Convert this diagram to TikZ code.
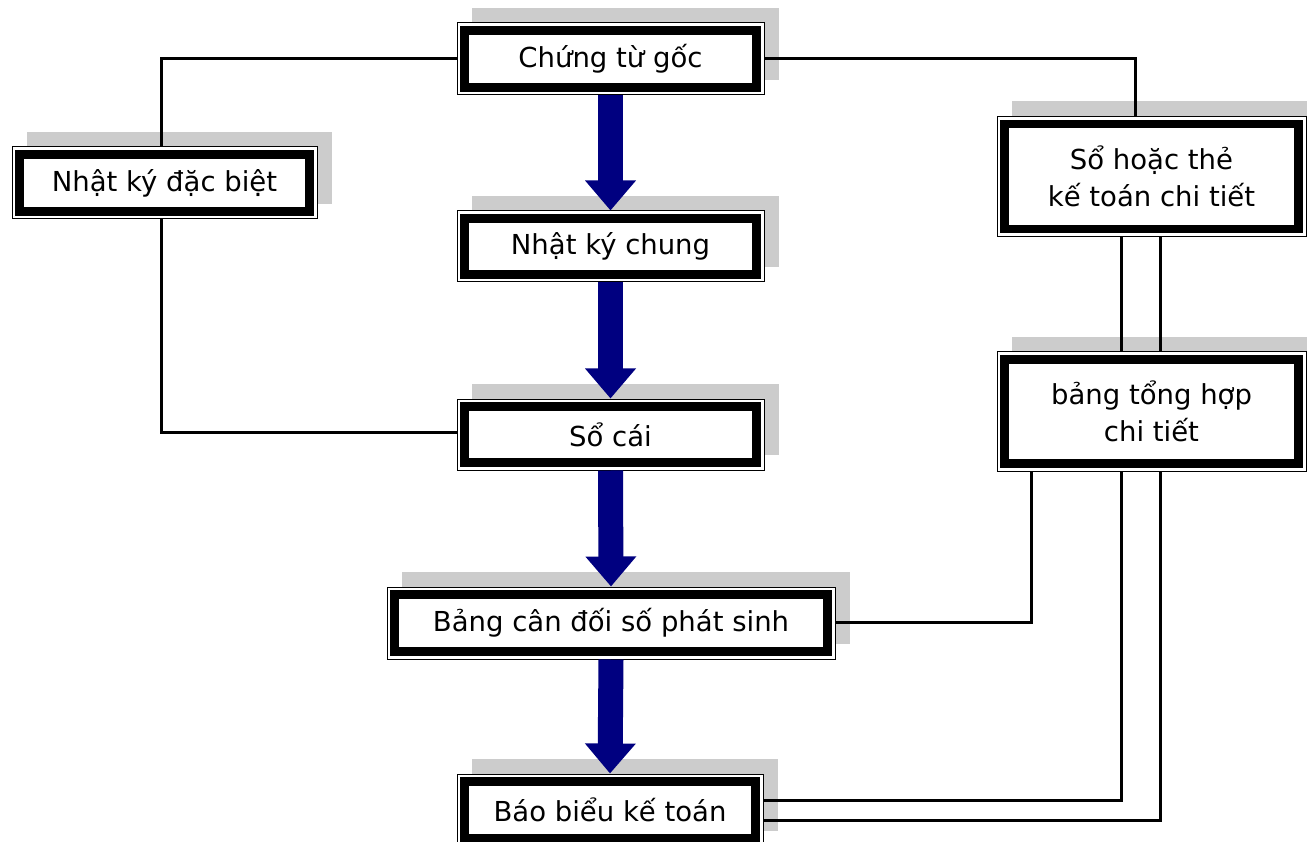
\documentclass[tikz,border=0pt]{standalone}
\usepackage{fontspec}
\setmainfont{DejaVu Sans}
\usetikzlibrary{shadows,arrows.meta,calc}
\definecolor{navyblue}{RGB}{0,0,128}
\definecolor{shadowgray}{RGB}{204,204,204}
\begin{document}
\begin{tikzpicture}[x=1pt,y=-1pt,
  box/.style={rectangle, draw=black, line width=1pt, fill=white, inner sep=0pt, align=center,
    font=\fontsize{27.5}{37}\selectfont,
    drop shadow={shadow xshift=15pt, shadow yshift=15pt, fill=shadowgray, opacity=1},
    path picture={\draw[line width=8.5pt]
      ([shift={(7.5pt,-7.5pt)}]path picture bounding box.north west) rectangle
      ([shift={(-7.5pt,7.5pt)}]path picture bounding box.south east);}},
  link/.style={draw=black, line width=3pt},
  flow/.style={draw=navyblue, line width=25pt, -{Triangle[width=49pt,length=30pt]}}]
\useasboundingbox (0,0) rectangle (1307,842);

\node[box, minimum width=307pt, minimum height=72pt] (A) at (610.5,59) {Chứng từ gốc};
\node[box, minimum width=305pt, minimum height=72pt] (B) at (164.5,183) {Nhật ký đặc biệt};
\node[box, minimum width=307pt, minimum height=71pt] (C) at (610.5,246.5) {Nhật ký chung};
\node[box, minimum width=307pt, minimum height=71pt] (D) at (610.5,434.5) {Sổ cái};
\node[box, minimum width=448pt, minimum height=72pt] (E) at (611,623) {Bảng cân đối số phát sinh};
\node[box, minimum width=306pt, minimum height=72pt] (F) at (610,810) {Báo biểu kế toán};
\node[box, minimum width=309pt, minimum height=120pt] (G) at (1151.5,176.5) {Sổ hoặc thẻ\\kế toán chi tiết};
\node[box, minimum width=309pt, minimum height=119pt] (H) at (1151.5,411.5) {bảng tổng hợp\\chi tiết};

% connectors
\draw[link] (A.west) -| ([xshift=-3.5pt]B.north);
\draw[link] ([xshift=-3.5pt]B.south) |- ([yshift=2.5pt]D.west);
\draw[link] (A.east) -| ([xshift=-16.5pt]G.north);
\draw[link] ([xshift=-30.5pt]G.south) -- ([xshift=-30.5pt]H.north);
\draw[link] ([xshift=8.5pt]G.south) -- ([xshift=8.5pt]H.north);
\draw[link] ([xshift=-120.5pt]H.south) |- ([yshift=1pt]E.east);
\draw[link] ([xshift=-30.5pt]H.south) |- ([yshift=10pt]F.east);
\draw[link] ([xshift=8.5pt]H.south) |- ([yshift=-10pt]F.east);

% flow arrows
\draw[flow] (A.south) -- (C.north);
\draw[flow] (C.south) -- (D.north);
\draw[flow] (D.south) -- (E.north);
\draw[flow] (E.south) -- (F.north);
\end{tikzpicture}
\end{document}
